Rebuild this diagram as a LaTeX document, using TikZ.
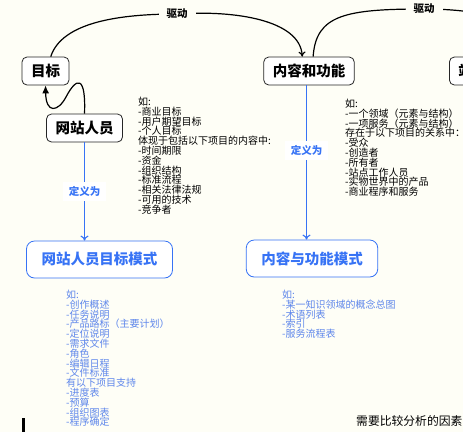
\documentclass[tikz,border=0pt]{standalone}
\usepackage{fontspec}
\setmainfont{Noto Sans CJK SC}
\usetikzlibrary{arrows.meta, positioning}
\definecolor{bgcream}{RGB}{254,254,246}
\definecolor{topicblue}{RGB}{55,115,245}
\definecolor{noteblue}{RGB}{95,135,235}

\begin{document}
\begin{tikzpicture}[
        x=1pt, y=-1pt,
        topic/.style={rectangle, draw=black!85, line width=0.8pt, rounded corners=5pt, fill=white, font=\bfseries\fontsize{14.5}{14.5}\selectfont, inner xsep=9pt, inner ysep=0pt, minimum height=28pt},
        model/.style={rectangle, draw=topicblue, line width=0.8pt, rounded corners=8pt, fill=white, text=topicblue, font=\bfseries\fontsize{14.5}{14.5}\selectfont, inner xsep=15pt, inner ysep=0pt, minimum height=37pt},
        note/.style={anchor=north west, align=left, inner sep=0pt, font=\fontsize{10}{9.8}\selectfont},
        bluenote/.style={note, text=noteblue},
        drive/.style={draw, -{To[length=5pt,width=7pt]}, line width=1.2pt},
        link/.style={draw, -{Latex[length=8pt,width=7pt]}, line width=1.2pt},
        define/.style={draw, -{To[length=5pt,width=8pt]}, line width=1.1pt, topicblue},
        drivetext/.style={fill=bgcream, font=\bfseries\fontsize{10.5}{10.5}\selectfont, inner xsep=8pt, inner ysep=2pt},
        definetext/.style={fill=white, text=topicblue, font=\bfseries\fontsize{10.5}{10.5}\selectfont, inner xsep=6pt, inner ysep=4.5pt}
        ]

        % Background
        \fill [bgcream] (0,0) rectangle (463,432);
        \useasboundingbox (0,0) rectangle (463,432);

        % Nodes
        \node (goal) [topic] at (45.5,71) {目标};
        \node (staff) [topic] at (84.5,128) {网站人员};
        \node (content) [topic] at (309,71) {内容和功能};
        \node (site) [topic, anchor=west] at (449,71) {站};
        \node (staffmodel) [model] at (99.5,259.5) {网站人员目标模式};
        \node (contentmodel) [model] at (312,258.5) {内容与功能模式};
        \coordinate (nextnode) at (540,57);

        % Notes
        \node (staffnote) [note] at (138,97) {如:\\-商业目标\\-用户期望目标\\-个人目标\\体现于包括以下项目的内容中:\\-时间期限\\-资金\\-组织结构\\-标准流程\\-相关法律法规\\-可用的技术\\-竞争者};
        \node (contentnote) [note] at (345,99) {如:\\-一个领域（元素与结构）\\-一项服务（元素与结构）\\存在于以下项目的关系中：\\-受众\\-创造者\\-所有者\\-站点工作人员\\-实物世界中的产品\\-商业程序和服务};
        \node (staffmodelnote) [bluenote] at (66,290) {如:\\-创作概述\\-任务说明\\-产品路标（主要计划）\\-定位说明\\-需求文件\\-角色\\-编辑日程\\-文件标准\\有以下项目支持\\-进度表\\-预算\\-组织图表\\-程序确定};
        \node (contentmodelnote) [bluenote] at (282,290) {如:\\-某一知识领域的概念总图\\-术语列表\\-索引\\-服务流程表};
        \node (factors) [anchor=north west, inner sep=0pt, font=\fontsize{11.8}{11.8}\selectfont] at (356,415) {需要比较分析的因素};
        \fill (22,418) rectangle (25,432);

        % Arrows with labels
        \draw [drive] (goal.70) .. controls (62,22) and (120,14) .. (177,14) node[drivetext] {驱动} .. controls (235,10) and (300,20) .. (content.115);
        \draw [drive] (content.74) .. controls (316,15) and (345,9) .. (424,9) node[drivetext] {驱动} .. controls (480,9) and (535,20) .. (nextnode);
        \draw [link] (staff.north) .. controls (86,76) and (77,76) .. (66,97) .. controls (58,112) and (46,114) .. (goal.south);
        \draw [define] (staff) -- node[definetext] {定义为} (staff.south |- staffmodel.north);
        \draw [define] ([xshift=-2.5pt]content.south) -- node[definetext, pos=0.42] {定义为} ([xshift=-2.5pt]content.south |- contentmodel.north);

    \end{tikzpicture}
\end{document}
